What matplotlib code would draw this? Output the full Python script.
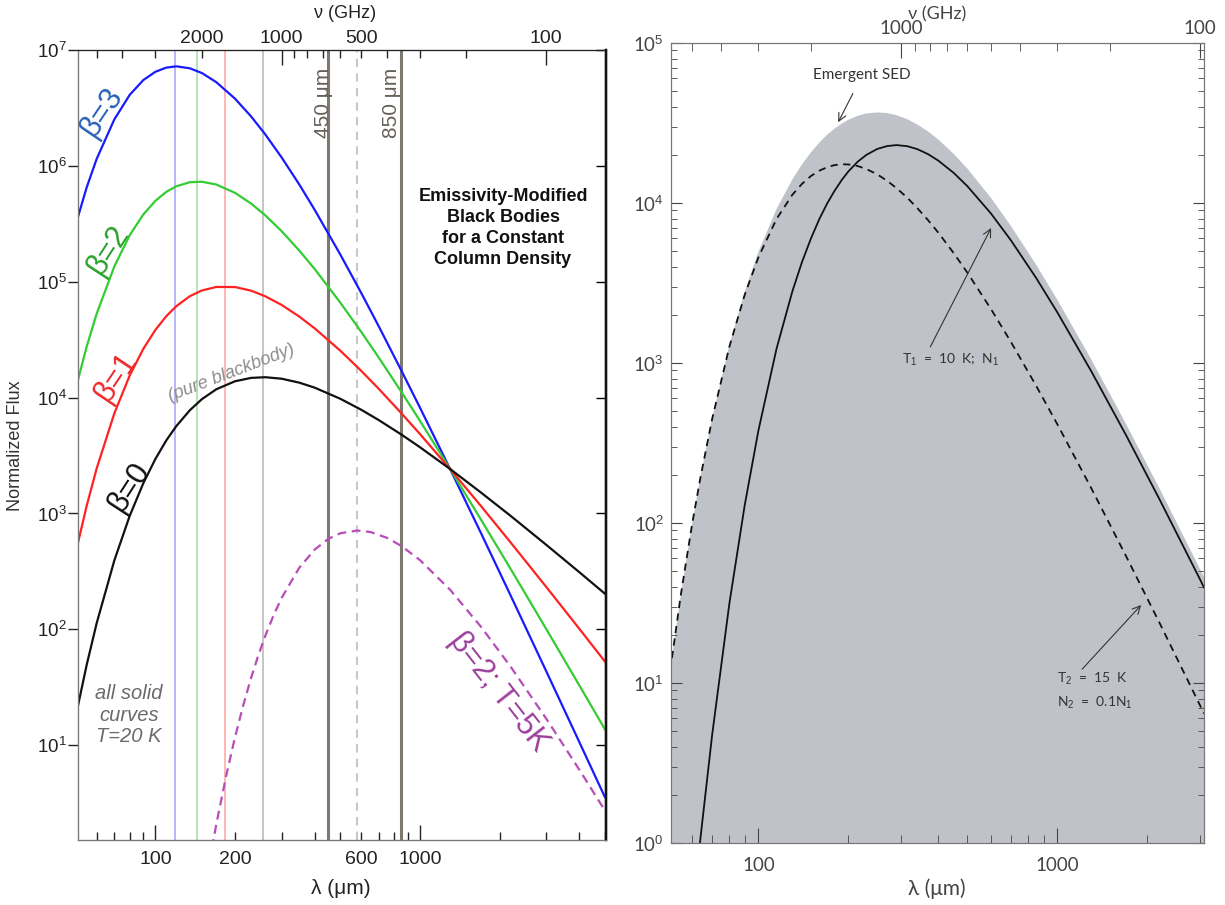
import numpy as np
import matplotlib.pyplot as plt

plt.rcParams['font.family'] = ['Liberation Sans', 'DejaVu Sans']
plt.rcParams['mathtext.fontset'] = 'custom'
plt.rcParams['mathtext.rm'] = 'Liberation Sans'
plt.rcParams['mathtext.it'] = 'Liberation Sans:italic'

# ---------------------------------------------------------------------------
# Left panel: emissivity-modified black bodies, T = 20 K (log10 normalized flux)
# ---------------------------------------------------------------------------
wl_left = [50, 55, 60, 70, 80, 90, 100, 110, 120, 135, 150, 170, 200, 230, 260,
           300, 350, 400, 500, 600, 700, 850, 1000, 1300, 1700, 2200, 3000, 4000, 5000]
log_b0 = [1.249, 1.693, 2.053, 2.596, 2.980, 3.260, 3.470, 3.631, 3.754, 3.891, 3.987,
          4.072, 4.141, 4.170, 4.176, 4.163, 4.129, 4.086, 3.990, 3.895, 3.805, 3.682,
          3.572, 3.384, 3.181, 2.980, 2.730, 2.494, 2.308]
log_b1 = [2.664, 3.066, 3.389, 3.865, 4.191, 4.420, 4.584, 4.703, 4.789, 4.875, 4.925,
          4.955, 4.954, 4.923, 4.875, 4.800, 4.699, 4.598, 4.405, 4.231, 4.074, 3.866,
          3.686, 3.384, 3.065, 2.751, 2.367, 2.006, 1.723]
log_b2 = [4.079, 4.440, 4.724, 5.133, 5.402, 5.580, 5.698, 5.776, 5.824, 5.859, 5.863,
          5.839, 5.767, 5.675, 5.574, 5.437, 5.269, 5.110, 4.820, 4.567, 4.343, 4.051,
          3.800, 3.384, 2.948, 2.523, 2.004, 1.518, 1.138]
log_b3 = [5.494, 5.814, 6.060, 6.402, 6.613, 6.740, 6.812, 6.848, 6.859, 6.842, 6.801,
          6.722, 6.580, 6.427, 6.273, 6.073, 5.839, 5.621, 5.235, 4.903, 4.612, 4.235,
          3.914, 3.384, 2.832, 2.294, 1.640, 1.029, 0.553]

# beta = 2, T = 5 K (dashed)
wl_cold = [160, 170, 185, 200, 215, 230, 245, 260, 280, 300, 350, 400, 450, 500, 580,
           650, 750, 850, 1000, 1300, 1700, 2200, 3000, 4000, 5000]
log_cold = [-0.009, 0.319, 0.731, 1.069, 1.347, 1.580, 1.776, 1.941, 2.123, 2.271, 2.532,
            2.688, 2.780, 2.829, 2.853, 2.840, 2.790, 2.720, 2.598, 2.342, 2.023, 1.679,
            1.230, 0.790, 0.437]

peak_wl = [119, 144, 183, 255]          # thin vertical lines at each peak
peak_col = ['#aaaaff', '#aaddaa', '#ffaaaa', '#bbbbbb']
band_wl = [450, 850]
cold_peak = 580

# ---------------------------------------------------------------------------
# Right panel: two-temperature line of sight (log10 flux)
# ---------------------------------------------------------------------------
wl_right = [50, 55, 60, 64, 70, 80, 90, 100, 115, 130, 140, 150, 160, 170, 180, 190, 200,
            215, 230, 250, 270, 290, 315, 340, 370, 400, 450, 500, 600, 700, 850, 1000,
            1300, 1700, 2200, 3000, 3100]
log_t10 = [-2.167, -1.237, -0.479, 0.031, 0.673, 1.499, 2.111, 2.577, 3.089, 3.449, 3.632,
           3.779, 3.900, 3.998, 4.077, 4.143, 4.197, 4.258, 4.301, 4.338, 4.356, 4.362,
           4.355, 4.337, 4.305, 4.265, 4.189, 4.106, 3.935, 3.767, 3.532, 3.318, 2.949,
           2.549, 2.148, 1.651, 1.597]
log_t15 = [0.999, 1.550, 1.992, 2.285, 2.649, 3.103, 3.426, 3.660, 3.900, 4.052, 4.120,
           4.169, 4.202, 4.224, 4.237, 4.242, 4.241, 4.231, 4.212, 4.179, 4.138, 4.093,
           4.033, 3.969, 3.892, 3.815, 3.688, 3.566, 3.338, 3.132, 2.858, 2.619, 2.218,
           1.793, 1.376, 0.864, 0.809]
log_sed = [0.999, 1.550, 1.993, 2.288, 2.653, 3.114, 3.446, 3.694, 3.962, 4.148, 4.242,
           4.317, 4.378, 4.427, 4.465, 4.496, 4.520, 4.545, 4.560, 4.566, 4.562, 4.549,
           4.524, 4.491, 4.447, 4.397, 4.308, 4.216, 4.033, 3.857, 3.615, 3.397, 3.023,
           2.619, 2.216, 1.716, 1.663]

C_UM_GHZ = 2.998e5  # lambda(um) * nu(GHz)

W, H = 1225, 905
fig = plt.figure(figsize=(W / 100, H / 100), dpi=100)

# ============================== LEFT PANEL =================================
ax = fig.add_axes([78 / W, 1 - 840 / H, 528 / W, 790 / H])
ax.set_xscale('log')
ax.set_yscale('log')

for wl, col in zip(peak_wl, peak_col):
    ax.axvline(wl, color=col, lw=1.2, zorder=1)
for wl in band_wl:
    ax.axvline(wl, color='#7d7870', lw=2.2, zorder=1)
ax.axvline(cold_peak, color='#c8c8c8', lw=1.5, ls=(0, (4, 3)), zorder=1)

wl_l = np.array(wl_left)
ax.plot(wl_l, 10 ** np.array(log_b3), color='#1a1aff', lw=1.6, zorder=3)
ax.plot(wl_l, 10 ** np.array(log_b2), color='#33cc33', lw=1.6, zorder=3)
ax.plot(wl_l, 10 ** np.array(log_b1), color='#ff2222', lw=1.6, zorder=3)
ax.plot(wl_l, 10 ** np.array(log_b0), color='#111111', lw=1.6, zorder=3)
ax.plot(wl_cold, 10 ** np.array(log_cold), color='#b84db8', lw=1.6,
        ls=(0, (4, 2.5)), zorder=3)

ax.set_xlim(51, 5050)
ax.set_ylim(1.52, 1e7)

ax.set_xticks([100, 1000], labels=['100', '1000'])
minor_x = [60, 70, 80, 90, 200, 300, 400, 500, 600, 700, 800, 900, 2000, 3000, 4000, 5000]
ax.set_xticks(minor_x, labels=['200' if v == 200 else '600' if v == 600 else ''
                               for v in minor_x], minor=True)
ax.tick_params(axis='x', which='both', direction='in', top=False, labelsize=14,
               pad=8, colors='#222222')
ax.tick_params(axis='x', which='major', length=11, width=1)
ax.tick_params(axis='x', which='minor', length=6, width=1)

decades = [10, 100, 1e3, 1e4, 1e5, 1e6, 1e7]
ax.set_yticks(decades, labels=['10$^{%d}$' % i for i in range(1, 8)])
ax.yaxis.set_minor_locator(plt.NullLocator())
ax.tick_params(axis='y', which='major', direction='out', length=7, width=1,
               labelsize=13.5, pad=1, right=False, colors='#222222')

axr = ax.twinx()
axr.set_yscale('log')
axr.set_ylim(ax.get_ylim())
axr.set_yticks(decades, labels=[''] * len(decades))
axr.yaxis.set_minor_locator(plt.NullLocator())
axr.tick_params(axis='y', direction='in', length=7, width=1)

axt = ax.twiny()
axt.set_xscale('log')
axt.set_xlim(ax.get_xlim())
nu_major = [1000, 100]
nu_minor = [5000, 4000, 3000, 2000, 900, 800, 700, 600, 500, 400, 300, 200]
axt.set_xticks([C_UM_GHZ / v for v in nu_major], labels=['1000', '100'])
axt.set_xticks([C_UM_GHZ / v for v in nu_minor],
               labels=[str(v) if v in (2000, 500) else '' for v in nu_minor], minor=True)
axt.tick_params(axis='x', which='both', direction='in', labelsize=14, pad=2,
                colors='#222222')
axt.tick_params(axis='x', which='major', length=11, width=1)
axt.tick_params(axis='x', which='minor', length=6, width=1)

for a in (ax, axr, axt):
    a.spines['left'].set_color('#777777')
    a.spines['bottom'].set_color('#777777')
    a.spines['top'].set_color('#222222')
    a.spines['right'].set_color('#111111')
    a.spines['right'].set_linewidth(1.6)

fig.text(16 / W, 1 - 446 / H, 'Normalized Flux', rotation=90, ha='center', va='center',
         fontsize=13, color='#333333')
fig.text(341 / W, 1 - 888 / H, 'λ (μm)', ha='center', va='center', fontsize=15,
         color='#222222')
fig.text(345 / W, 1 - 13 / H, 'ν (GHz)', ha='center', va='center', fontsize=13,
         color='#222222')

ax.text(63, 2.9e6, 'β=3', rotation=56, color='#2a62b8', fontsize=22,
        ha='center', va='center')
ax.text(66.8, 1.9e5, 'β=2', rotation=57, color='#2aa02a', fontsize=22,
        ha='center', va='center')
ax.text(71.1, 1.52e4, 'β=1', rotation=56, color='#ee2a2a', fontsize=22,
        ha='center', va='center')
ax.text(79.6, 1710, 'β=0', rotation=57, color='#111111', fontsize=22,
        ha='center', va='center')
ax.text(194, 1.62e4, '(pure blackbody)', rotation=21, color='#8c8c8c', fontsize=13,
        style='italic', ha='center', va='center')
ax.text(0.805, 0.775, 'Emissivity-Modified\nBlack Bodies\nfor a Constant\nColumn Density',
        transform=ax.transAxes, ha='center', va='center', fontsize=13, weight='bold',
        linespacing=1.3, color='#111111')
ax.text(431, 3.5e6, '450 μm', rotation=90, color='#666058', fontsize=15,
        ha='center', va='center')
ax.text(783, 3.5e6, '850 μm', rotation=90, color='#666058', fontsize=15,
        ha='center', va='center')
ax.text(79.6, 18.2, 'all solid\ncurves\nT=20 K', color='#6a6a6a', fontsize=14.5,
        style='italic', ha='center', va='center', linespacing=1.15)
ax.text(1983, 28.6, 'β=2; T=5K', rotation=-52, color='#9c3f9c', fontsize=22,
        ha='center', va='center')

# ============================== RIGHT PANEL ================================
RFONT = ['Lato', 'DejaVu Sans']
bx = fig.add_axes([671 / W, 1 - 843 / H, 533 / W, 800 / H])
bx.set_xscale('log')
bx.set_yscale('log')
wl_r = np.array(wl_right)
bx.fill_between(wl_r, 10 ** np.array(log_sed), 1e-3, color='#bfc3c9', lw=0, zorder=1)
bx.plot(wl_r, 10 ** np.array(log_t10), color='#111111', lw=1.3, zorder=3)
bx.plot(wl_r, 10 ** np.array(log_t15), color='#111111', lw=1.3, ls=(0, (4, 3)), zorder=3)
bx.set_xlim(51, 3100)
bx.set_ylim(1, 1e5)

bx.set_xticks([100, 1000], labels=['100', '1000'])
bx.set_xticks([60, 70, 80, 90, 200, 300, 400, 500, 600, 700, 800, 900, 2000, 3000],
              labels=[''] * 14, minor=True)
bx.set_yticks([1, 10, 100, 1e3, 1e4, 1e5], labels=['10$^{%d}$' % i for i in range(6)])
bx.tick_params(axis='both', which='both', direction='in', right=True, top=False,
               colors='#444444', labelsize=13.5)
bx.tick_params(axis='x', which='major', length=11, pad=10)
bx.tick_params(axis='x', which='minor', length=6)
bx.tick_params(axis='y', which='major', length=8, pad=5)
bx.tick_params(axis='y', which='minor', length=4)
for lab in bx.get_xticklabels() + bx.get_yticklabels():
    lab.set_family(RFONT)

bxt = bx.twiny()
bxt.set_xscale('log')
bxt.set_xlim(bx.get_xlim())
bxt.set_xticks([C_UM_GHZ / v for v in nu_major], labels=['1000', '100'])
bxt.set_xticks([C_UM_GHZ / v for v in nu_minor], labels=[''] * len(nu_minor), minor=True)
bxt.tick_params(axis='x', which='both', direction='in', colors='#444444',
                labelsize=13.5, pad=4)
bxt.tick_params(axis='x', which='major', length=11)
bxt.tick_params(axis='x', which='minor', length=6)
for lab in bxt.get_xticklabels():
    lab.set_family(RFONT)

for a in (bx, bxt):
    for s in a.spines.values():
        s.set_color('#777777')

fig.text(937 / W, 1 - 889 / H, 'λ (μm)', ha='center', va='center', fontsize=15,
         color='#444444', family=RFONT)
fig.text(937 / W, 1 - 14 / H, 'ν (GHz)', ha='center', va='center', fontsize=13,
         color='#444444', family=RFONT)

akw = dict(arrowstyle='->', color='#333333', lw=0.8, mutation_scale=14)
bx.annotate('Emergent SED', xy=(185, 3.2e4), xytext=(222.7, 6.3e4), ha='center',
            va='center', fontsize=11, color='#333333', family=RFONT,
            arrowprops=dict(akw, shrinkA=7, shrinkB=0))
bx.annotate('', xy=(601, 6980), xytext=(376, 1259), arrowprops=dict(akw, shrinkA=0, shrinkB=0))
bx.text(303, 1044, 'T$_1$  =  10  K;  N$_1$', ha='left', va='center', fontsize=10,
        color='#333333', family=RFONT)
bx.annotate('', xy=(1910, 30.7), xytext=(1212, 12.2), arrowprops=dict(akw, shrinkA=0, shrinkB=0))
bx.text(1000, 10.6, 'T$_2$  =  15  K', ha='left', va='center', fontsize=10,
        color='#333333', family=RFONT)
bx.text(1000, 7.5, 'N$_2$  =  0.1N$_1$', ha='left', va='center', fontsize=10,
        color='#333333', family=RFONT)

fig.savefig('out.png', dpi=100)
